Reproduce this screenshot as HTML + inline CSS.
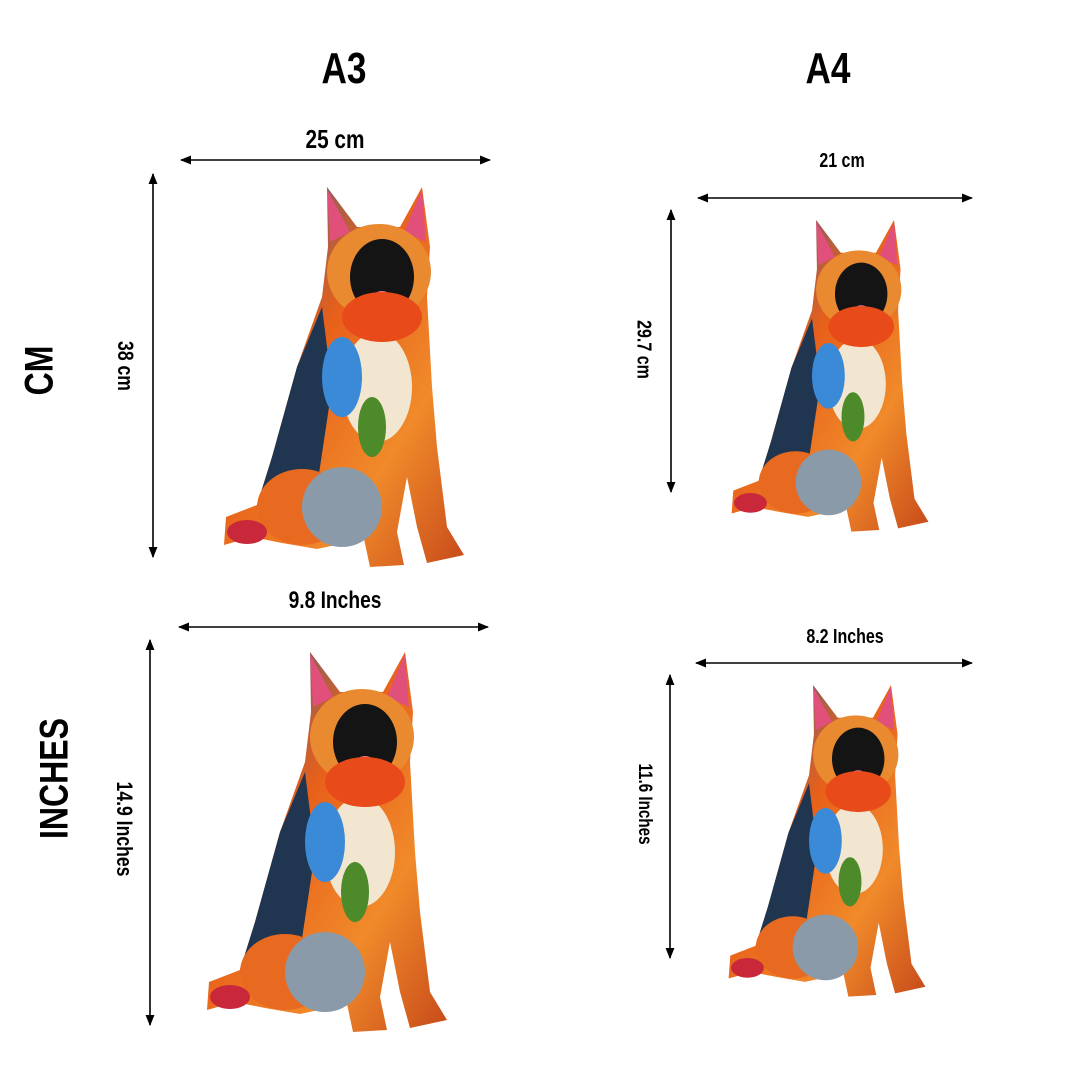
<!DOCTYPE html>
<html><head><meta charset="utf-8"><style>
html,body{margin:0;padding:0;background:#fff;}
body{width:1080px;height:1080px;overflow:hidden;position:relative;}
.t{position:absolute;font-family:"Liberation Sans Narrow","Liberation Sans",sans-serif;font-weight:bold;color:#000;white-space:nowrap;transform-origin:center center;}
</style></head><body>
<svg width="1080" height="1080" style="position:absolute;left:0;top:0">
<defs>
<marker id="ah" viewBox="0 0 10 10" refX="9" refY="5" markerWidth="7" markerHeight="7" orient="auto-start-reverse"><path d="M0,1 L10,5 L0,9 z" fill="#000"/></marker>
<linearGradient id="bg" x1="0" y1="0" x2="1" y2="1">
<stop offset="0" stop-color="#2d5c9e"/><stop offset="0.4" stop-color="#e8601a"/><stop offset="0.7" stop-color="#f08a2a"/><stop offset="1" stop-color="#c74a1a"/></linearGradient>
<g id="dog">
<path d="M105,0 L135,40 L178,40 L200,0 L208,60 L205,110 L210,200 L215,260 L225,340 L242,368 L205,376 L195,340 L185,290 L175,345 L182,378 L148,380 L142,352 L95,362 L60,356 L30,350 L2,358 L4,330 L35,318 L50,270 L75,180 L100,110 L106,60 Z" fill="url(#bg)"/>
<path d="M50,270 L75,180 L100,120 L110,200 L95,300 L60,330 L35,318 Z" fill="#1f3550"/>
<ellipse cx="80" cy="320" rx="45" ry="38" fill="#e86a20"/>
<ellipse cx="120" cy="320" rx="40" ry="40" fill="#8a9aa8"/>
<ellipse cx="155" cy="200" rx="35" ry="55" fill="#f2e6d0"/>
<ellipse cx="150" cy="240" rx="14" ry="30" fill="#4c8a2a"/>
<ellipse cx="120" cy="190" rx="20" ry="40" fill="#3a8ad8"/>
<ellipse cx="25" cy="345" rx="20" ry="12" fill="#c8283a"/>
<path d="M105,2 L128,45 L108,55 Z" fill="#e0507a"/>
<path d="M200,2 L204,55 L182,45 Z" fill="#e0507a"/>
<ellipse cx="157" cy="85" rx="52" ry="48" fill="#e98a30"/>
<ellipse cx="160" cy="90" rx="32" ry="38" fill="#141414"/>
<ellipse cx="160" cy="112" rx="10" ry="8" fill="#e87890"/>
<ellipse cx="160" cy="130" rx="40" ry="25" fill="#e84a1a"/>
</g>
</defs>
<use href="#dog" transform="translate(222,187)"/>
<use href="#dog" transform="translate(730,220) scale(0.82)"/>
<use href="#dog" transform="translate(205,652)"/>
<use href="#dog" transform="translate(727,685) scale(0.82)"/>
<g stroke="#000" stroke-width="1.6" marker-start="url(#ah)" marker-end="url(#ah)">
<line x1="181" y1="160" x2="490" y2="160"/>
<line x1="153" y1="174" x2="153" y2="557"/>
<line x1="698" y1="198" x2="972" y2="198"/>
<line x1="671" y1="210" x2="671" y2="492"/>
<line x1="179" y1="627" x2="488" y2="627"/>
<line x1="150" y1="640" x2="150" y2="1025"/>
<line x1="696" y1="663" x2="972" y2="663"/>
<line x1="670" y1="675" x2="670" y2="958"/>
</g>
</svg>
<div class="t" style="left:294px;top:44px;width:100px;text-align:center;font-size:44px;transform:scaleX(0.8)">A3</div>
<div class="t" style="left:778px;top:44px;width:100px;text-align:center;font-size:44px;transform:scaleX(0.8)">A4</div>
<div class="t" style="left:-10px;top:348px;width:100px;text-align:center;font-size:40px;transform:rotate(-90deg) scaleX(0.8)">CM</div>
<div class="t" style="left:-45px;top:756px;width:200px;text-align:center;font-size:40px;transform:rotate(-90deg) scaleX(0.8)">INCHES</div>
<div class="t" style="left:275px;top:124px;width:120px;text-align:center;font-size:26px;transform:scaleX(0.8)">25 cm</div>
<div class="t" style="left:782px;top:150px;width:120px;text-align:center;font-size:20px;transform:scaleX(0.8)">21 cm</div>
<div class="t" style="left:75px;top:353px;width:100px;text-align:center;font-size:22px;transform:rotate(90deg) scaleX(0.8)">38 cm</div>
<div class="t" style="left:593px;top:338px;width:100px;text-align:center;font-size:20px;transform:rotate(90deg) scaleX(0.8)">29.7 cm</div>
<div class="t" style="left:255px;top:587px;width:160px;text-align:center;font-size:24px;transform:scaleX(0.8)">9.8 Inches</div>
<div class="t" style="left:765px;top:626px;width:160px;text-align:center;font-size:20px;transform:scaleX(0.8)">8.2 Inches</div>
<div class="t" style="left:44px;top:816px;width:160px;text-align:center;font-size:22px;transform:rotate(90deg) scaleX(0.8)">14.9 Inches</div>
<div class="t" style="left:574px;top:793px;width:140px;text-align:center;font-size:19px;transform:rotate(90deg) scaleX(0.8)">11.6 Inches</div>
</body></html>
